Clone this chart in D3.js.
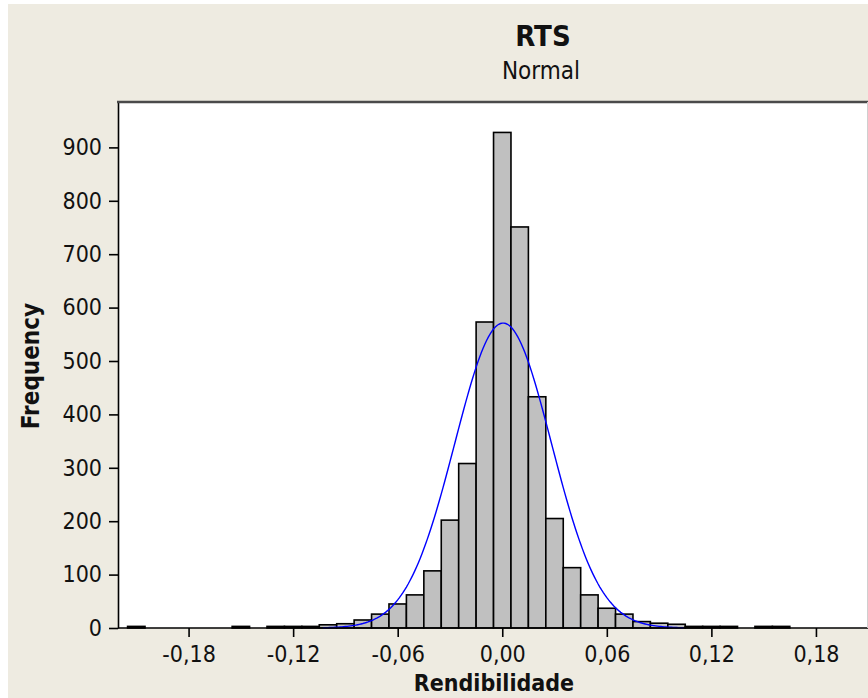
<!DOCTYPE html>
<html>
<head>
<meta charset="utf-8">
<script src="https://cdn.jsdelivr.net/npm/d3@7"></script>
<style>
  body { margin: 0; background: #fff; }
  svg text { font-family: "DejaVu Sans Condensed", "DejaVu Sans", sans-serif; font-stretch: condensed; fill: #111; }
</style>
</head>
<body>
<div id="chart"></div>
<script>
// bin centres (width 0.01) and counts
var binCenters = [-0.21, -0.20, -0.19, -0.18, -0.17, -0.16, -0.15, -0.14, -0.13, -0.12,
  -0.11, -0.10, -0.09, -0.08, -0.07, -0.06, -0.05, -0.04, -0.03, -0.02,
  -0.01, 0.00, 0.01, 0.02, 0.03, 0.04, 0.05, 0.06, 0.07, 0.08,
  0.09, 0.10, 0.11, 0.12, 0.13, 0.14, 0.15, 0.16];
var frequencies = [3, 0, 0, 0, 0, 0, 3, 0, 3, 3,
  3, 6, 8, 15, 26, 45, 62, 107, 202, 308,
  573, 928, 751, 433, 205, 113, 62, 37, 26, 12,
  9, 7, 3, 3, 3, 0, 3, 3];
var binWidth = 0.01;

// fitted normal (Minitab "Normal" fit)
var fitMean = 0.0005;
var fitStDev = 0.0277;
var fitN = 3965;
var fitRange = [-0.103, 0.104];

var xTicks = [-0.18, -0.12, -0.06, 0.00, 0.06, 0.12, 0.18];
var yTicks = [0, 100, 200, 300, 400, 500, 600, 700, 800, 900];

var svgWidth = 868;
var svgHeight = 698;
var plot = { left: 118, right: 867, top: 102, bottom: 628 };

var svg = d3.select("#chart")
  .append("svg")
  .attr("width", svgWidth)
  .attr("height", svgHeight);

// window background
svg.append("rect").attr("width", svgWidth).attr("height", svgHeight).attr("fill", "#eeebe1");
svg.append("rect").attr("width", svgWidth).attr("height", 4).attr("fill", "#fff");
svg.append("rect").attr("width", 8).attr("height", svgHeight).attr("fill", "#fff");

var x = d3.scaleLinear().domain([-0.2205, 0.2093]).range([plot.left, plot.right]);
var y = d3.scaleLinear().domain([0, 985]).range([plot.bottom, plot.top]);

// plot area
svg.append("rect")
  .attr("x", plot.left)
  .attr("y", plot.top)
  .attr("width", svgWidth - plot.left)
  .attr("height", plot.bottom - plot.top)
  .attr("fill", "#fff");

// bars
var bins = binCenters.map(function(c, i) { return { c: c, n: frequencies[i] }; });
svg.append("g").selectAll("rect")
  .data(bins.filter(function(d) { return d.n > 0; }))
  .enter()
  .append("rect")
  .attr("x", function(d) { return x(d.c - binWidth / 2); })
  .attr("y", function(d) { return y(d.n); })
  .attr("width", function(d) { return x(d.c + binWidth / 2) - x(d.c - binWidth / 2); })
  .attr("height", function(d) { return y(0) - y(d.n); })
  .attr("fill", "#c0c0c0")
  .attr("stroke", "#000")
  .attr("stroke-width", 1.6);

// normal curve
var curvePts = d3.range(fitRange[0], fitRange[1] + 1e-9, 0.001).map(function(v) {
  var z = (v - fitMean) / fitStDev;
  return [v, fitN * binWidth / (fitStDev * Math.sqrt(2 * Math.PI)) * Math.exp(-0.5 * z * z)];
});
svg.append("path")
  .datum(curvePts)
  .attr("fill", "none")
  .attr("stroke", "#0000ff")
  .attr("stroke-width", 1.4)
  .attr("d", d3.line().x(function(d) { return x(d[0]); }).y(function(d) { return y(d[1]); }));

// axes
var locale = d3.formatLocale({ decimal: ",", thousands: ".", grouping: [3], currency: ["", ""], minus: "-" });

var bottomAxis = d3.axisBottom(x)
  .tickValues(xTicks)
  .tickFormat(locale.format(".2f"))
  .tickSize(9)
  .tickSizeOuter(0)
  .tickPadding(9);
var leftAxis = d3.axisLeft(y)
  .tickValues(yTicks)
  .tickSize(9)
  .tickSizeOuter(0)
  .tickPadding(7);

var xAxis = svg.append("g")
  .attr("transform", "translate(0," + plot.bottom + ")")
  .call(bottomAxis);
xAxis.select(".domain").attr("d", "M" + plot.left + ",0H" + svgWidth);

var yAxis = svg.append("g")
  .attr("transform", "translate(" + plot.left + ",0)")
  .call(leftAxis);

svg.selectAll(".tick text").attr("font-size", "23px").attr("font-family", null);
svg.selectAll(".domain, .tick line").attr("stroke", "#000").attr("stroke-width", 1.6);

// frame: top edge and right edge
svg.append("line")
  .attr("x1", plot.left - 1).attr("x2", svgWidth)
  .attr("y1", plot.top).attr("y2", plot.top)
  .attr("stroke", "#4a4a4a").attr("stroke-width", 2.5);
svg.append("line")
  .attr("x1", plot.right + 0.5).attr("x2", plot.right + 0.5)
  .attr("y1", plot.top).attr("y2", plot.bottom)
  .attr("stroke", "#cfcfcf").attr("stroke-width", 1);

// titles
svg.append("text")
  .attr("x", 543).attr("y", 46)
  .attr("text-anchor", "middle")
  .attr("font-size", "29px")
  .attr("font-weight", "bold")
  .text("RTS");
svg.append("text")
  .attr("x", 541).attr("y", 79)
  .attr("text-anchor", "middle")
  .attr("font-size", "24px")
  .text("Normal");

svg.append("text")
  .attr("x", 494).attr("y", 691)
  .attr("text-anchor", "middle")
  .attr("font-size", "23px")
  .attr("font-weight", "bold")
  .text("Rendibilidade");

svg.append("text")
  .attr("transform", "translate(39,366) rotate(-90)")
  .attr("text-anchor", "middle")
  .attr("font-size", "24px")
  .attr("font-weight", "bold")
  .text("Frequency");
</script>
</body>
</html>
